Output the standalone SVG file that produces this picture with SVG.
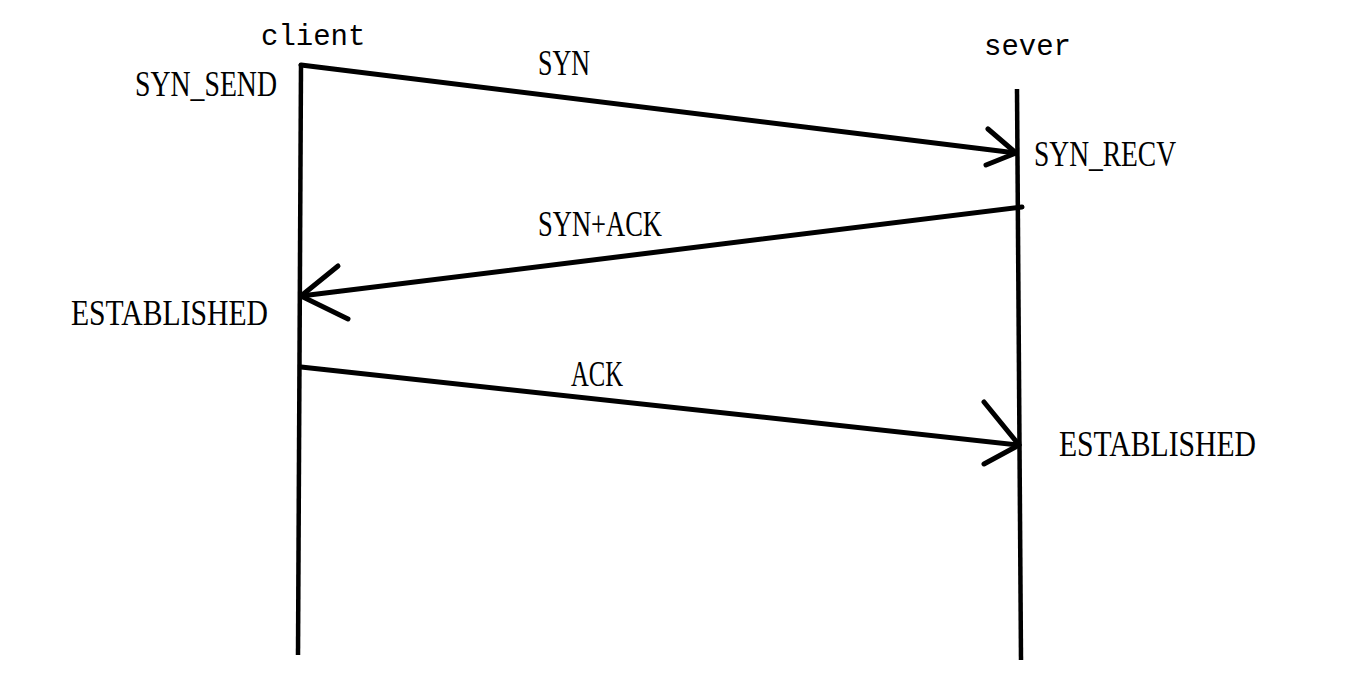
<svg xmlns="http://www.w3.org/2000/svg" width="1359" height="676" viewBox="0 0 1359 676">
  <style>
    .life { stroke: #000; stroke-width: 4.5; fill: none; stroke-linecap: butt; }
    .msg { stroke: #000; stroke-width: 5; fill: none; stroke-linecap: round; stroke-linejoin: round; }
    .lbl { font-family: "Liberation Serif", "DejaVu Serif", serif; font-size: 36px; fill: #000; }
    .name { font-family: "Liberation Mono", "DejaVu Sans Mono", monospace; font-size: 29px; fill: #000; }
  </style>
  <rect width="1359" height="676" fill="#fff"/>

  <g id="client">
    <line class="life" x1="301" y1="64" x2="298" y2="655"/>
    <text class="name" x="261" y="45">client</text>
    <text class="lbl" x="135" y="96" textLength="142" lengthAdjust="spacingAndGlyphs">SYN_SEND</text>
    <text class="lbl" x="71" y="325" textLength="197" lengthAdjust="spacingAndGlyphs">ESTABLISHED</text>
  </g>

  <g id="server">
    <line class="life" x1="1017" y1="89" x2="1021" y2="660"/>
    <text class="name" x="984" y="55">sever</text>
    <text class="lbl" x="1034" y="166" textLength="142" lengthAdjust="spacingAndGlyphs">SYN_RECV</text>
    <text class="lbl" x="1059" y="456" textLength="197" lengthAdjust="spacingAndGlyphs">ESTABLISHED</text>
  </g>

  <g id="connectors">
    <g id="syn">
      <line class="msg" x1="301" y1="65" x2="1016" y2="153"/>
      <polyline class="msg" points="988,129 1016,153 986,165"/>
      <text class="lbl" x="538" y="75" textLength="52" lengthAdjust="spacingAndGlyphs">SYN</text>
    </g>
    <g id="synack">
      <line class="msg" x1="1022" y1="207" x2="301" y2="296"/>
      <polyline class="msg" points="338,266 301,296 348,319"/>
      <text class="lbl" x="538" y="236" textLength="124" lengthAdjust="spacingAndGlyphs">SYN+ACK</text>
    </g>
    <g id="ack">
      <line class="msg" x1="301" y1="367" x2="1019" y2="445"/>
      <polyline class="msg" points="984,402 1019,445 984,464"/>
      <text class="lbl" x="571" y="386" textLength="52" lengthAdjust="spacingAndGlyphs">ACK</text>
    </g>
  </g>
</svg>
